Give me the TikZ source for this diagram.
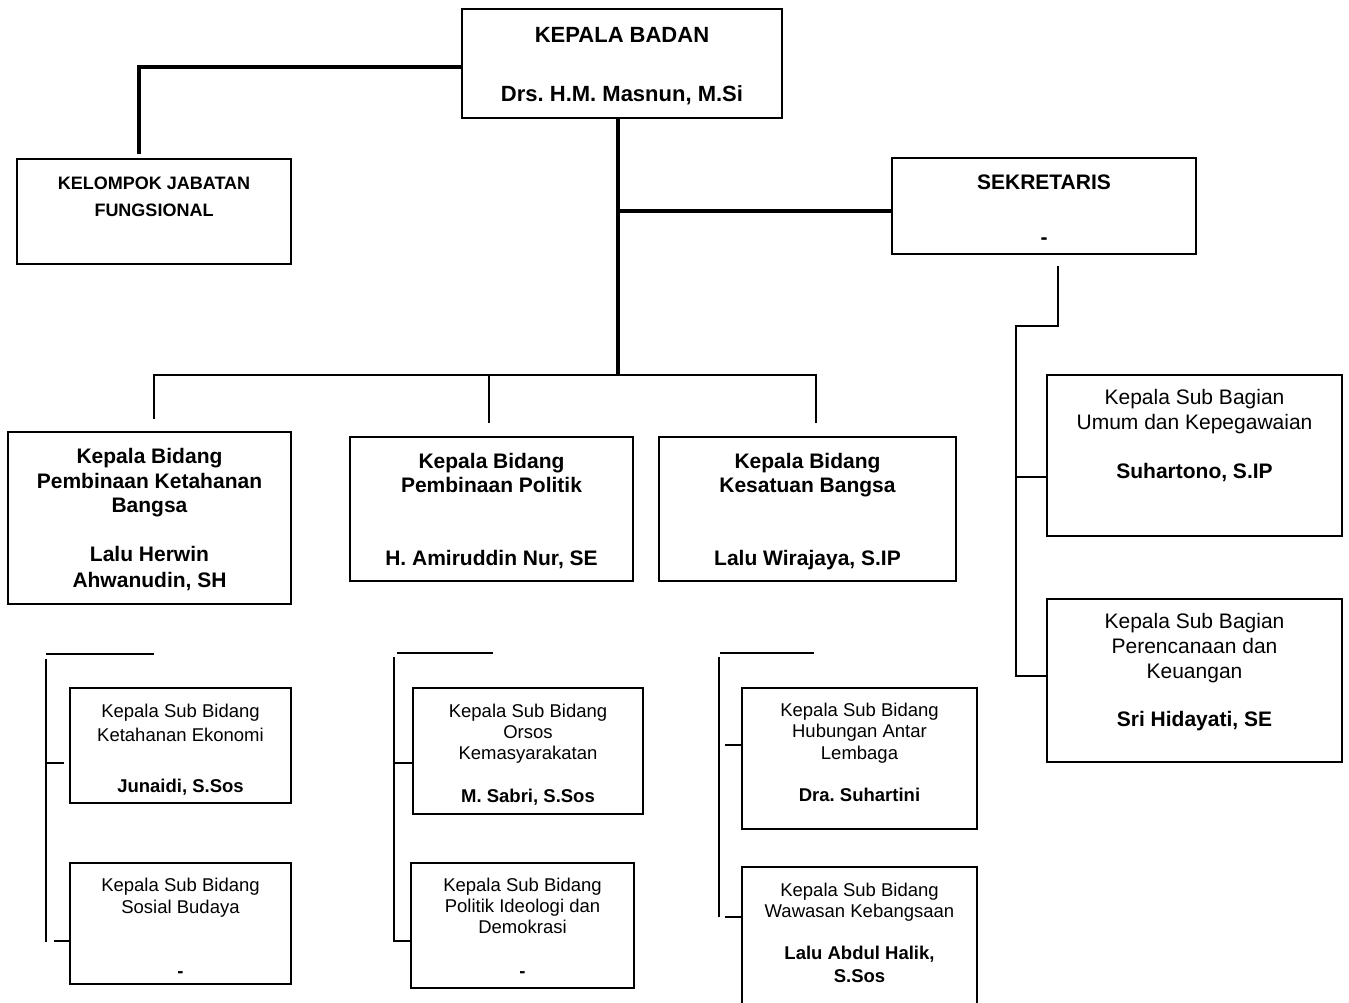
\documentclass[tikz,border=0pt]{standalone}
\usepackage{fontspec}
\setmainfont{Liberation Sans}
\frenchspacing
\newcommand\bx[5]{\node[box, minimum width={#4-#2}, minimum height={#5-#3}] (#1) at (#2,#3) {};}
\newcommand\tx[7]{\node[txtn, font=\fontsize{#4}{#5}\selectfont#6] (#1) at (#2,{#3-0.8*#4}) {\rule{0pt}{0.8em}#7};}
\begin{document}
\begin{tikzpicture}[x=1pt,y=-1pt,
  box/.style={draw, line width=1.8pt, inner sep=0pt, outer sep=0pt, anchor=north west},
  txtn/.style={inner sep=0pt, outer sep=0pt, anchor=north, align=center},
  thickline/.style={line width=3.8pt},
  thinline/.style={line width=1.8pt}]
\useasboundingbox (0,0) rectangle (1349,1003);
\fill[white] (0,0) rectangle (1349,1003);
% boxes
\bx{kb}{462}{9}{782}{118}
\bx{kjf}{17}{159}{291}{264}
\bx{sek}{892}{158}{1196}{254}
\bx{b1}{8}{432}{291}{604}
\bx{b2}{350}{437}{633}{581}
\bx{b3}{659}{437}{956}{581}
\bx{su1}{1047}{375}{1342}{536}
\bx{su2}{1047}{599}{1342}{762}
\bx{l1}{70}{688}{291}{803}
\bx{l2}{70}{863}{291}{984}
\bx{m1}{413}{688}{643}{814}
\bx{m2}{411}{863}{634}{988}
\bx{r1}{742}{688}{977}{829}
\bx{r2}{742}{867}{977}{1020}
% texts
\tx{kbT}{622}{43}{22}{26}{\bfseries}{KEPALA BADAN\\[33pt]Drs. H.M. Masnun, M.Si}
\tx{kjfT}{154}{190}{18}{27}{\bfseries}{KELOMPOK JABATAN\\FUNGSIONAL}
\tx{sekT}{1044}{189}{21}{25}{\bfseries}{SEKRETARIS\\[30pt]-}
\tx{b1T}{149.5}{463}{21}{24.5}{\bfseries}{Kepala Bidang\\[0.5pt]Pembinaan Ketahanan\\Bangsa\\[24.5pt]Lalu Herwin\\[1.5pt]Ahwanudin, SH}
\tx{b2T}{491.5}{468}{21}{24.5}{\bfseries}{Kepala Bidang\\Pembinaan Politik\\[48.5pt]H. Amiruddin Nur, SE}
\tx{b3T}{807.5}{468}{21}{24.5}{\bfseries}{Kepala Bidang\\Kesatuan Bangsa\\[48.5pt]Lalu Wirajaya, S.IP}
\tx{su1T}{1194.5}{404}{21}{25}{}{Kepala Sub Bagian\\Umum dan Kepegawaian\\[24pt]\textbf{Suhartono, S.IP}}
\tx{su2T}{1194.5}{628}{21}{25}{}{Kepala Sub Bagian\\Perencanaan dan\\Keuangan\\[23pt]\textbf{Sri Hidayati, SE}}
\tx{l1T}{180.5}{717}{18.5}{22}{}{Kepala Sub Bidang\\[2pt]Ketahanan Ekonomi\\[29pt]\textbf{Junaidi, S.Sos}}
\tx{l2T}{180.5}{891}{18.5}{22}{}{Kepala Sub Bidang\\Sosial Budaya\\[42pt]\textbf{-}}
\tx{m1T}{528}{717}{18.5}{21}{}{Kepala Sub Bidang\\Orsos\\Kemasyarakatan\\[22pt]\textbf{M. Sabri, S.Sos}}
\tx{m2T}{522.5}{891}{18.5}{21}{}{Kepala Sub Bidang\\Politik Ideologi dan\\Demokrasi\\[23pt]\textbf{-}}
\tx{r1T}{859.5}{716}{18.5}{21.5}{}{Kepala Sub Bidang\\Hubungan Antar\\Lembaga\\[20.5pt]\textbf{Dra. Suhartini}}
\tx{r2T}{859.5}{896}{18.5}{21.5}{}{Kepala Sub Bidang\\Wawasan Kebangsaan\\[20pt]\textbf{Lalu Abdul Halik,}\\[1.5pt]\textbf{S.Sos}}
% thick connectors
\coordinate (j1) at (139,67);
\draw[thickline] (kb.west |- j1) -- (j1) -- ([yshift=5pt]j1 |- kjf.north);
\coordinate (tb) at (618,375);
\coordinate (tj) at (618,211);
\draw[thickline] (kb.south -| tb) -- (tb);
\draw[thickline] (tj) -- (tj -| sek.west);
% bus to bidang
\coordinate (busL) at (154,375);
\coordinate (busR) at (816,375);
\coordinate (d2) at (489,375);
\draw[thinline] ([yshift=13pt]b1.north -| busL) -- (busL) -- (busR) -- ([yshift=14pt]b3.north -| busR);
\draw[thinline] (d2) -- ([yshift=14pt]b2.north -| d2);
% sekretaris subs
\coordinate (s2) at (1058,326);
\coordinate (s3) at (1016,326);
\coordinate (s4) at (1016,676);
\coordinate (s5) at (1016,477);
\draw[thinline] ([yshift=-12pt]sek.south -| s2) -- (s2) -- (s3) -- (s4) -- (s4 -| su2.west);
\draw[thinline] (s5) -- (s5 -| su1.west);
% left subs
\coordinate (la) at (46,654); \coordinate (lb) at (154,654);
\draw[thinline] (la) -- (lb);
\coordinate (lv1) at (46,659); \coordinate (lv2) at (46,942);
\draw[thinline] (lv1) -- (lv2);
\coordinate (lc) at (46,763);
\draw[thinline] (lc) -- ([xshift=-6pt]lc -| l1.west);
\coordinate (ld) at (54,941);
\draw[thinline] (ld) -- (ld -| l2.west);
% middle subs
\coordinate (ma) at (397,653); \coordinate (mb) at (493,653);
\draw[thinline] (ma) -- (mb);
\coordinate (mv1) at (394,657); \coordinate (mv2) at (394,942);
\draw[thinline] (mv1) -- (mv2);
\coordinate (mc) at (394,763);
\draw[thinline] (mc) -- (mc -| m1.west);
\coordinate (md) at (394,941);
\draw[thinline] (md) -- (md -| m2.west);
% right subs
\coordinate (ra) at (720,653); \coordinate (rb) at (814,653);
\draw[thinline] (ra) -- (rb);
\coordinate (rv1) at (719,657); \coordinate (rv2) at (719,917);
\draw[thinline] (rv1) -- (rv2);
\coordinate (rc) at (725,745);
\draw[thinline] (rc) -- (rc -| r1.west);
\coordinate (rd) at (725,917);
\draw[thinline] (rd) -- (rd -| r2.west);
\end{tikzpicture}
\end{document}
